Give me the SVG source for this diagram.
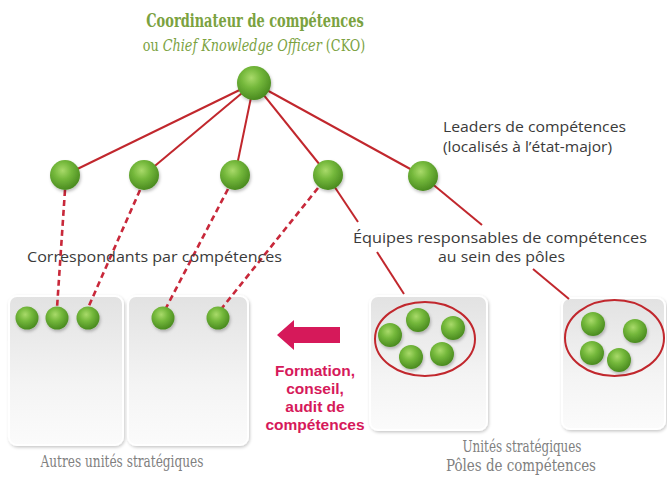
<svg xmlns="http://www.w3.org/2000/svg" width="667" height="477" viewBox="0 0 667 477">
<defs>
<radialGradient id="gball" cx="0.42" cy="0.35" r="0.65">
<stop offset="0" stop-color="#a9da6a"/>
<stop offset="0.45" stop-color="#74b83b"/>
<stop offset="1" stop-color="#4a8b20"/>
</radialGradient>
<linearGradient id="gbox" x1="0" y1="0" x2="0" y2="1">
<stop offset="0" stop-color="#e2e2e2"/>
<stop offset="0.6" stop-color="#f4f4f4"/>
<stop offset="1" stop-color="#fbfbfb"/>
</linearGradient>
<filter id="sh" x="-30%" y="-30%" width="160%" height="160%">
<feDropShadow dx="1" dy="2" stdDeviation="1.5" flood-color="#000" flood-opacity="0.25"/>
</filter>
<filter id="bsh" x="-10%" y="-10%" width="120%" height="120%">
<feDropShadow dx="1" dy="1.5" stdDeviation="1.5" flood-color="#000" flood-opacity="0.22"/>
</filter>
</defs>
<style>
.ball{fill:url(#gball);filter:url(#sh)}
.box{fill:url(#gbox);stroke:#ffffff;stroke-width:2;filter:url(#bsh)}
.ln{stroke:#c1272d;stroke-width:2;fill:none}
.dash{stroke:#c8283a;stroke-width:2.6;fill:none;stroke-dasharray:6 4}
.ell{fill:none;stroke:#c1272d;stroke-width:2}
.lbl{font-family:"Open Sans","Liberation Sans",sans-serif;font-size:14.5px;fill:#3a3a3a}
.ttl{font-family:"DejaVu Serif Condensed","DejaVu Serif",serif;fill:#7ba23f;text-anchor:middle}
.unit{font-family:"DejaVu Serif Condensed","DejaVu Serif",serif;font-size:16px;fill:#808080;text-anchor:middle}
.act{font-family:"Liberation Sans",Arial,sans-serif;font-weight:bold;font-size:15.5px;fill:#d6195a;text-anchor:middle}
</style>

<g id="boxes">
<rect id="box1" class="box" x="9" y="296" width="114" height="149" rx="8"/>
<rect id="box2" class="box" x="128" y="296" width="120" height="149" rx="8"/>
<rect id="box3" class="box" x="370" y="296" width="117" height="134" rx="8"/>
<rect id="box4" class="box" x="562" y="298" width="103" height="131" rx="8"/>
</g>

<g id="connectors">
<line class="ln" x1="254" y1="83" x2="65" y2="175"/>
<line class="ln" x1="254" y1="83" x2="144" y2="175"/>
<line class="ln" x1="254" y1="83" x2="235" y2="175"/>
<line class="ln" x1="254" y1="83" x2="328" y2="175"/>
<line class="ln" x1="254" y1="83" x2="423" y2="176"/>
<line class="dash" x1="65" y1="190" x2="57" y2="308"/>
<line class="dash" x1="140" y1="190" x2="88" y2="308"/>
<line class="dash" x1="228" y1="189" x2="166" y2="308"/>
<line class="dash" x1="318" y1="188" x2="222" y2="308"/>
<line class="ln" x1="330" y1="180" x2="358" y2="222"/>
<line class="ln" x1="377" y1="252" x2="404" y2="294"/>
<line class="ln" x1="430" y1="182" x2="482" y2="225"/>
<line class="ln" x1="533" y1="269" x2="569" y2="299"/>
</g>

<g id="ellipses">
<ellipse class="ell" cx="425" cy="339" rx="50" ry="37"/>
<ellipse class="ell" cx="614.5" cy="338" rx="49.5" ry="38"/>
</g>

<g id="cko"><circle class="ball" cx="254" cy="83" r="17"/></g>
<g id="leader1"><circle class="ball" cx="65" cy="175" r="15"/></g>
<g id="leader2"><circle class="ball" cx="144" cy="175" r="15"/></g>
<g id="leader3"><circle class="ball" cx="235" cy="175" r="15"/></g>
<g id="leader4"><circle class="ball" cx="328" cy="175" r="15"/></g>
<g id="leader5"><circle class="ball" cx="423" cy="176" r="15"/></g>

<g id="corr-unit1">
<circle class="ball" cx="27" cy="318" r="11.5"/>
<circle class="ball" cx="57" cy="318" r="11.5"/>
<circle class="ball" cx="88" cy="318" r="11.5"/>
</g>
<g id="corr-unit2">
<circle class="ball" cx="163" cy="318" r="11.5"/>
<circle class="ball" cx="218" cy="318" r="11.5"/>
</g>
<g id="team-pole1">
<circle class="ball" cx="390" cy="335" r="12"/>
<circle class="ball" cx="418" cy="320" r="12"/>
<circle class="ball" cx="453" cy="328" r="12"/>
<circle class="ball" cx="411" cy="357" r="12"/>
<circle class="ball" cx="442" cy="354" r="12"/>
</g>
<g id="team-pole2">
<circle class="ball" cx="593" cy="324" r="12"/>
<circle class="ball" cx="635" cy="331" r="12"/>
<circle class="ball" cx="592" cy="353" r="12"/>
<circle class="ball" cx="619" cy="360" r="12"/>
</g>

<g id="arrow">
<polygon fill="#d6195a" points="277,335 294,320 294,327 340,327 340,343 294,343 294,350"/>
</g>

<g id="labels">
<text class="ttl" transform="translate(255,27) scale(0.8,1)" x="0" y="0" font-size="18" font-weight="bold">Coordinateur de compétences</text>
<text class="ttl" transform="translate(254,51) scale(0.89,1)" x="0" y="0" font-size="16">ou <tspan font-style="italic">Chief Knowledge Officer</tspan> (CKO)</text>
<text class="lbl" x="443" y="132" textLength="183" lengthAdjust="spacingAndGlyphs">Leaders de compétences</text>
<text class="lbl" x="443" y="152" textLength="169" lengthAdjust="spacingAndGlyphs">(localisés à l’état-major)</text>
<text class="lbl" x="353" y="243" textLength="294" lengthAdjust="spacingAndGlyphs">Équipes responsables de compétences</text>
<text class="lbl" x="438" y="262" textLength="127" lengthAdjust="spacingAndGlyphs">au sein des pôles</text>
<text class="lbl" x="27" y="262" textLength="255" lengthAdjust="spacingAndGlyphs">Correspondants par compétences</text>
<text class="act" x="315" y="376"><tspan x="315" y="376">Formation,</tspan><tspan x="315" y="394">conseil,</tspan><tspan x="315" y="412">audit de</tspan><tspan x="315" y="430">compétences</tspan></text>
<text class="unit" x="122" y="467" textLength="163" lengthAdjust="spacingAndGlyphs">Autres unités stratégiques</text>
<text class="unit" x="522" y="452" textLength="119" lengthAdjust="spacingAndGlyphs">Unités stratégiques</text>
<text class="unit" x="521" y="471" textLength="150" lengthAdjust="spacingAndGlyphs">Pôles de compétences</text>
</g>
</svg>
